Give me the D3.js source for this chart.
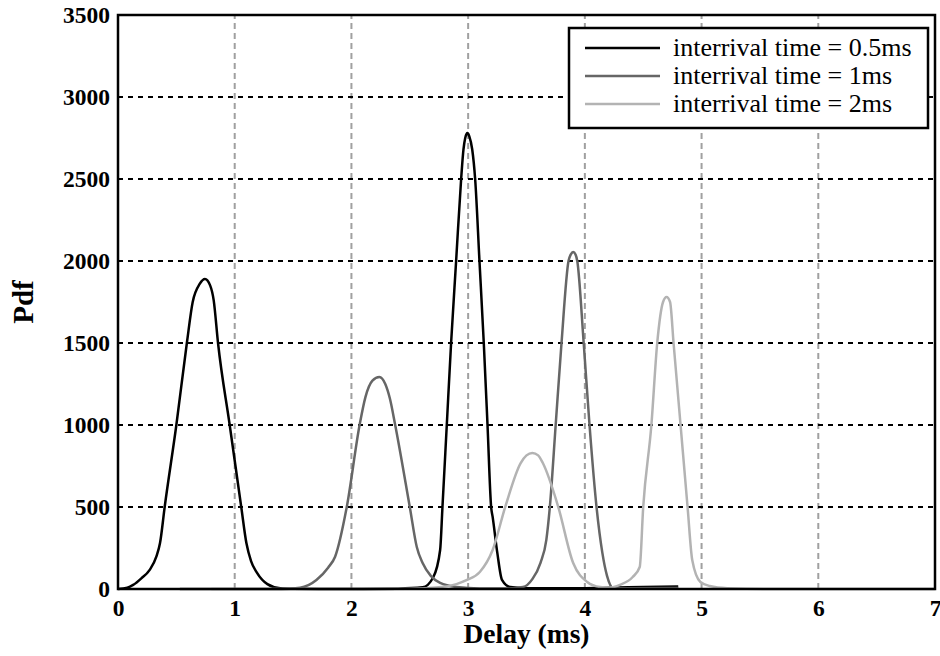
<!DOCTYPE html>
<html>
<head>
<meta charset="utf-8">
<script src="https://cdn.jsdelivr.net/npm/d3@7"></script>
<style>
  body { margin: 0; background: #fff; }
  text { font-family: "Liberation Serif", "Times New Roman", serif; }
</style>
</head>
<body>
<div id="container"></div>
<script>
/* CONSTANTS AND GLOBALS */
const width = 940,
  height = 656,
  margin = { left: 118, top: 15, bottom: 67, right: 5 };

// x ticks / y ticks
const xTicks = [0, 1, 2, 3, 4, 5, 6, 7];
const yTicks = [0, 500, 1000, 1500, 2000, 2500, 3000, 3500];

const seriesNames = ["interrival time = 0.5ms", "interrival time = 1ms", "interrival time = 2ms"];
const seriesColors = ["#000000", "#666666", "#b3b3b3"];

// interrival 0.5ms
const delay05 = [0, 0.08, 0.13, 0.2, 0.27, 0.33, 0.36, 0.40, 0.50, 0.59, 0.64, 0.70, 0.745, 0.79, 0.82, 0.857, 0.957, 1.056, 1.10, 1.14, 1.19, 1.28, 1.39, 1.5, 1.8, 2.1, 2.4, 2.61, 2.70, 2.76, 2.78, 2.817, 2.854, 2.897, 2.94, 2.96, 2.975, 2.994, 3.01, 3.035, 3.06, 3.097, 3.134, 3.166, 3.197, 3.21, 3.25, 3.29, 3.36, 3.5, 3.8, 4.2, 4.5, 4.8];
const pdf05 = [0, 8, 25, 65, 115, 200, 280, 500, 1000, 1500, 1750, 1860, 1890, 1850, 1760, 1500, 1000, 500, 280, 170, 100, 30, 5, 2, 0, 0, 2, 10, 70, 238, 500, 1000, 1500, 2000, 2500, 2680, 2750, 2780, 2760, 2680, 2500, 2000, 1500, 1000, 500, 440, 220, 55, 12, 5, 4, 8, 12, 16];

// interrival 1ms
const delay1 = [0.53, 1.0, 1.4, 1.56, 1.7, 1.8, 1.86, 1.96, 2.07, 2.12, 2.18, 2.24, 2.29, 2.33, 2.375, 2.50, 2.56, 2.61, 2.68, 2.76, 2.9, 3.1, 3.3, 3.47, 3.55, 3.62, 3.67, 3.70, 3.75, 3.80, 3.86, 3.88, 3.90, 3.92, 3.935, 3.99, 4.04, 4.10, 4.15, 4.19, 4.24, 4.4, 4.8];
const pdf1 = [0, 0, 0, 8, 55, 130, 197, 500, 1000, 1170, 1270, 1293, 1250, 1160, 1000, 500, 256, 158, 80, 37, 12, 3, 3, 12, 60, 160, 300, 500, 1000, 1500, 2000, 2040, 2055, 2040, 2000, 1500, 1000, 500, 220, 80, 8, 4, 6];

// interrival 2ms
const delay2 = [0.8, 1.5, 2.0, 2.5, 2.75, 2.9, 2.99, 3.1, 3.21, 3.32, 3.45, 3.50, 3.55, 3.60, 3.64, 3.77, 3.9, 4.02, 4.13, 4.21, 4.3, 4.41, 4.47, 4.5, 4.57, 4.62, 4.67, 4.7, 4.73, 4.76, 4.82, 4.88, 4.92, 4.99, 5.07, 5.22, 5.6, 6.0, 7.0];
const pdf2 = [0, 0, 0, 2, 10, 30, 55, 104, 238, 506, 768, 815, 830, 815, 768, 506, 158, 43, 12, 8, 25, 73, 134, 500, 1000, 1500, 1750, 1780, 1750, 1500, 1000, 500, 177, 43, 18, 5, 0, 0, 0];

const series = [
  d3.zip(delay05, pdf05),
  d3.zip(delay1, pdf1),
  d3.zip(delay2, pdf2)
];

// SCALES
const xScale = d3.scaleLinear()
  .domain([0, 7])
  .range([margin.left, width - margin.right]);

const yScale = d3.scaleLinear()
  .domain([0, 3500])
  .range([height - margin.bottom, margin.top]);

// CREATE SVG ELEMENT
const svg = d3.select("#container")
  .append("svg")
  .attr("width", width)
  .attr("height", height);

// GRID
svg.append("g")
  .selectAll("line")
  .data(xTicks.slice(1, -1))
  .join("line")
  .attr("x1", d => xScale(d)).attr("x2", d => xScale(d))
  .attr("y1", yScale(0)).attr("y2", yScale(3500))
  .attr("stroke", "#a0a0a0")
  .attr("stroke-width", 2)
  .attr("stroke-dasharray", "6,4");

svg.append("g")
  .selectAll("line")
  .data(yTicks.slice(1, -1))
  .join("line")
  .attr("x1", xScale(0)).attr("x2", xScale(7))
  .attr("y1", d => yScale(d)).attr("y2", d => yScale(d))
  .attr("stroke", "#000")
  .attr("stroke-width", 2)
  .attr("stroke-dasharray", "5,5");

// LINE GENERATOR
const lineGen = d3.line()
  .x(d => xScale(d[0]))
  .y(d => yScale(d[1]))
  .curve(d3.curveMonotoneX);

svg.selectAll(".curve")
  .data(series)
  .join("path")
  .attr("class", "curve")
  .attr("d", d => lineGen(d))
  .attr("fill", "none")
  .attr("stroke", (d, i) => seriesColors[i])
  .attr("stroke-width", 2.5);

// FRAME
svg.append("rect")
  .attr("x", xScale(0)).attr("y", yScale(3500))
  .attr("width", xScale(7) - xScale(0))
  .attr("height", yScale(0) - yScale(3500))
  .attr("fill", "none")
  .attr("stroke", "#000")
  .attr("stroke-width", 2.5);

// AXES (labels only)
const xAxis = d3.axisBottom(xScale).tickValues(xTicks).tickSize(0).tickPadding(10).tickFormat(d3.format("d"));
const yAxis = d3.axisLeft(yScale).tickValues(yTicks).tickSize(0).tickPadding(8).tickFormat(d3.format("d"));

svg.append("g")
  .attr("transform", `translate(0,${yScale(0)})`)
  .call(xAxis)
  .call(g => g.select(".domain").remove())
  .selectAll("text")
  .attr("font-family", "Liberation Serif")
  .attr("font-weight", "bold")
  .attr("font-size", 23.5)
  .attr("fill", "#000");

svg.append("g")
  .attr("transform", `translate(${xScale(0)},0)`)
  .call(yAxis)
  .call(g => g.select(".domain").remove())
  .selectAll("text")
  .attr("font-family", "Liberation Serif")
  .attr("font-weight", "bold")
  .attr("font-size", 23.5)
  .attr("fill", "#000");

// AXIS TITLES
svg.append("text")
  .attr("x", (xScale(0) + xScale(7)) / 2)
  .attr("y", 643)
  .attr("text-anchor", "middle")
  .attr("font-weight", "bold")
  .attr("font-size", 27.5)
  .text("Delay (ms)");

svg.append("text")
  .attr("transform", `translate(33,${yScale(1750)}) rotate(-90)`)
  .attr("text-anchor", "middle")
  .attr("font-weight", "bold")
  .attr("font-size", 29)
  .text("Pdf");

// LEGEND
const legend = svg.append("g");
legend.append("rect")
  .attr("x", 569).attr("y", 28)
  .attr("width", 359).attr("height", 100)
  .attr("fill", "#fff")
  .attr("stroke", "#000")
  .attr("stroke-width", 2.5);

const legendRows = legend.selectAll(".row")
  .data(seriesNames)
  .join("g")
  .attr("class", "row")
  .attr("transform", (d, i) => `translate(0,${48 + i * 28})`);

legendRows.append("line")
  .attr("x1", 585).attr("x2", 660)
  .attr("stroke", (d, i) => seriesColors[i])
  .attr("stroke-width", 2.5);

legendRows.append("text")
  .attr("x", 673)
  .attr("y", 8)
  .attr("font-size", 26)
  .text(d => d);
</script>
</body>
</html>
